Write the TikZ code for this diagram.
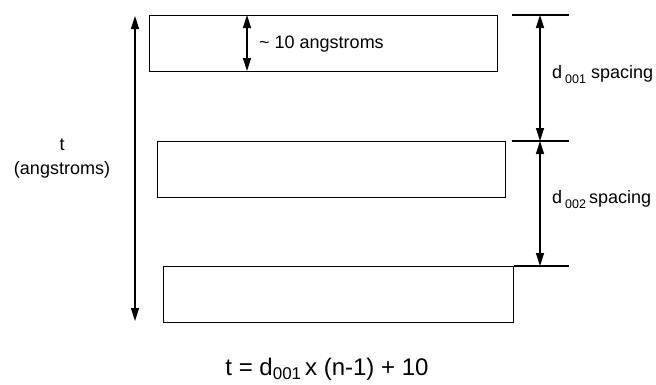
\documentclass[tikz,border=0pt]{standalone}
\usepackage{fontspec}
\setmainfont{Liberation Sans}
\usetikzlibrary{arrows.meta}
\newcommand{\subt}[1]{\raisebox{-5.5pt}{\fontsize{12.5}{12.5}\selectfont #1}}
\newcommand{\subf}[1]{\raisebox{-4.5pt}{\fontsize{17}{17}\selectfont #1}}
\tikzset{
  layer/.style={draw, line width=1.4pt, minimum width=348pt, minimum height=56pt, inner sep=0pt, anchor=north west},
  dim/.style={line width=1.4pt, {Triangle[length=13pt,width=8pt]}-{Triangle[length=13pt,width=8pt]}},
  guide/.style={line width=1.4pt},
  lbl/.style={font=\fontsize{18}{21}\selectfont, inner sep=0pt},
}
\begin{document}
\begin{tikzpicture}[x=1pt,y=1pt]
\useasboundingbox (0,0) rectangle (656,384);
% layers
\node[layer] (b1) at (149,369) {};
\node[layer] (b2) at (157,243) {};
\node[layer, minimum width=350pt] (b3) at (163,118) {};
% right guide lines
\coordinate (g1a) at (512,369); \coordinate (g1b) at (569,369);
\coordinate (g2a) at (512,243); \coordinate (g2b) at (569,243);
\coordinate (g3b) at (569,118);
\draw[guide] (g1a) -- (g1b);
\draw[guide] (g2a) -- (g2b);
\draw[guide] (b3.north east) -- (g3b);
% spacing arrows
\coordinate (s1) at (540,369); \coordinate (s2) at (540,243); \coordinate (s3) at (540,118);
\draw[dim] (s1) -- (s2);
\draw[dim] (s2) -- (s3);
% thickness arrow
\coordinate (k1) at (247,369); \coordinate (k2) at (247,313);
\draw[dim] (k1) -- (k2);
% total arrow
\coordinate (t1) at (135,368); \coordinate (t2) at (135,63);
\draw[dim] (t1) -- (t2);
% labels
\node[lbl, anchor=base west] (l10) at (259,336) {\textasciitilde\ 10 angstroms};
\node[lbl, anchor=base west] (ld1) at (552,306) {d\,\subt{001} spacing};
\node[lbl, anchor=base west] (ld2) at (552,181) {d\,\subt{002}\,spacing};
\node[lbl, anchor=base] (lt) at (62,234) {t};
\node[lbl, anchor=base] (lta) at (62,210) {(angstroms)};
\node[lbl, font=\fontsize{24}{28}\selectfont, anchor=base] (eq) at (327,9) {t = d\subf{001}\,x (n-1) + 10};
\end{tikzpicture}
\end{document}
